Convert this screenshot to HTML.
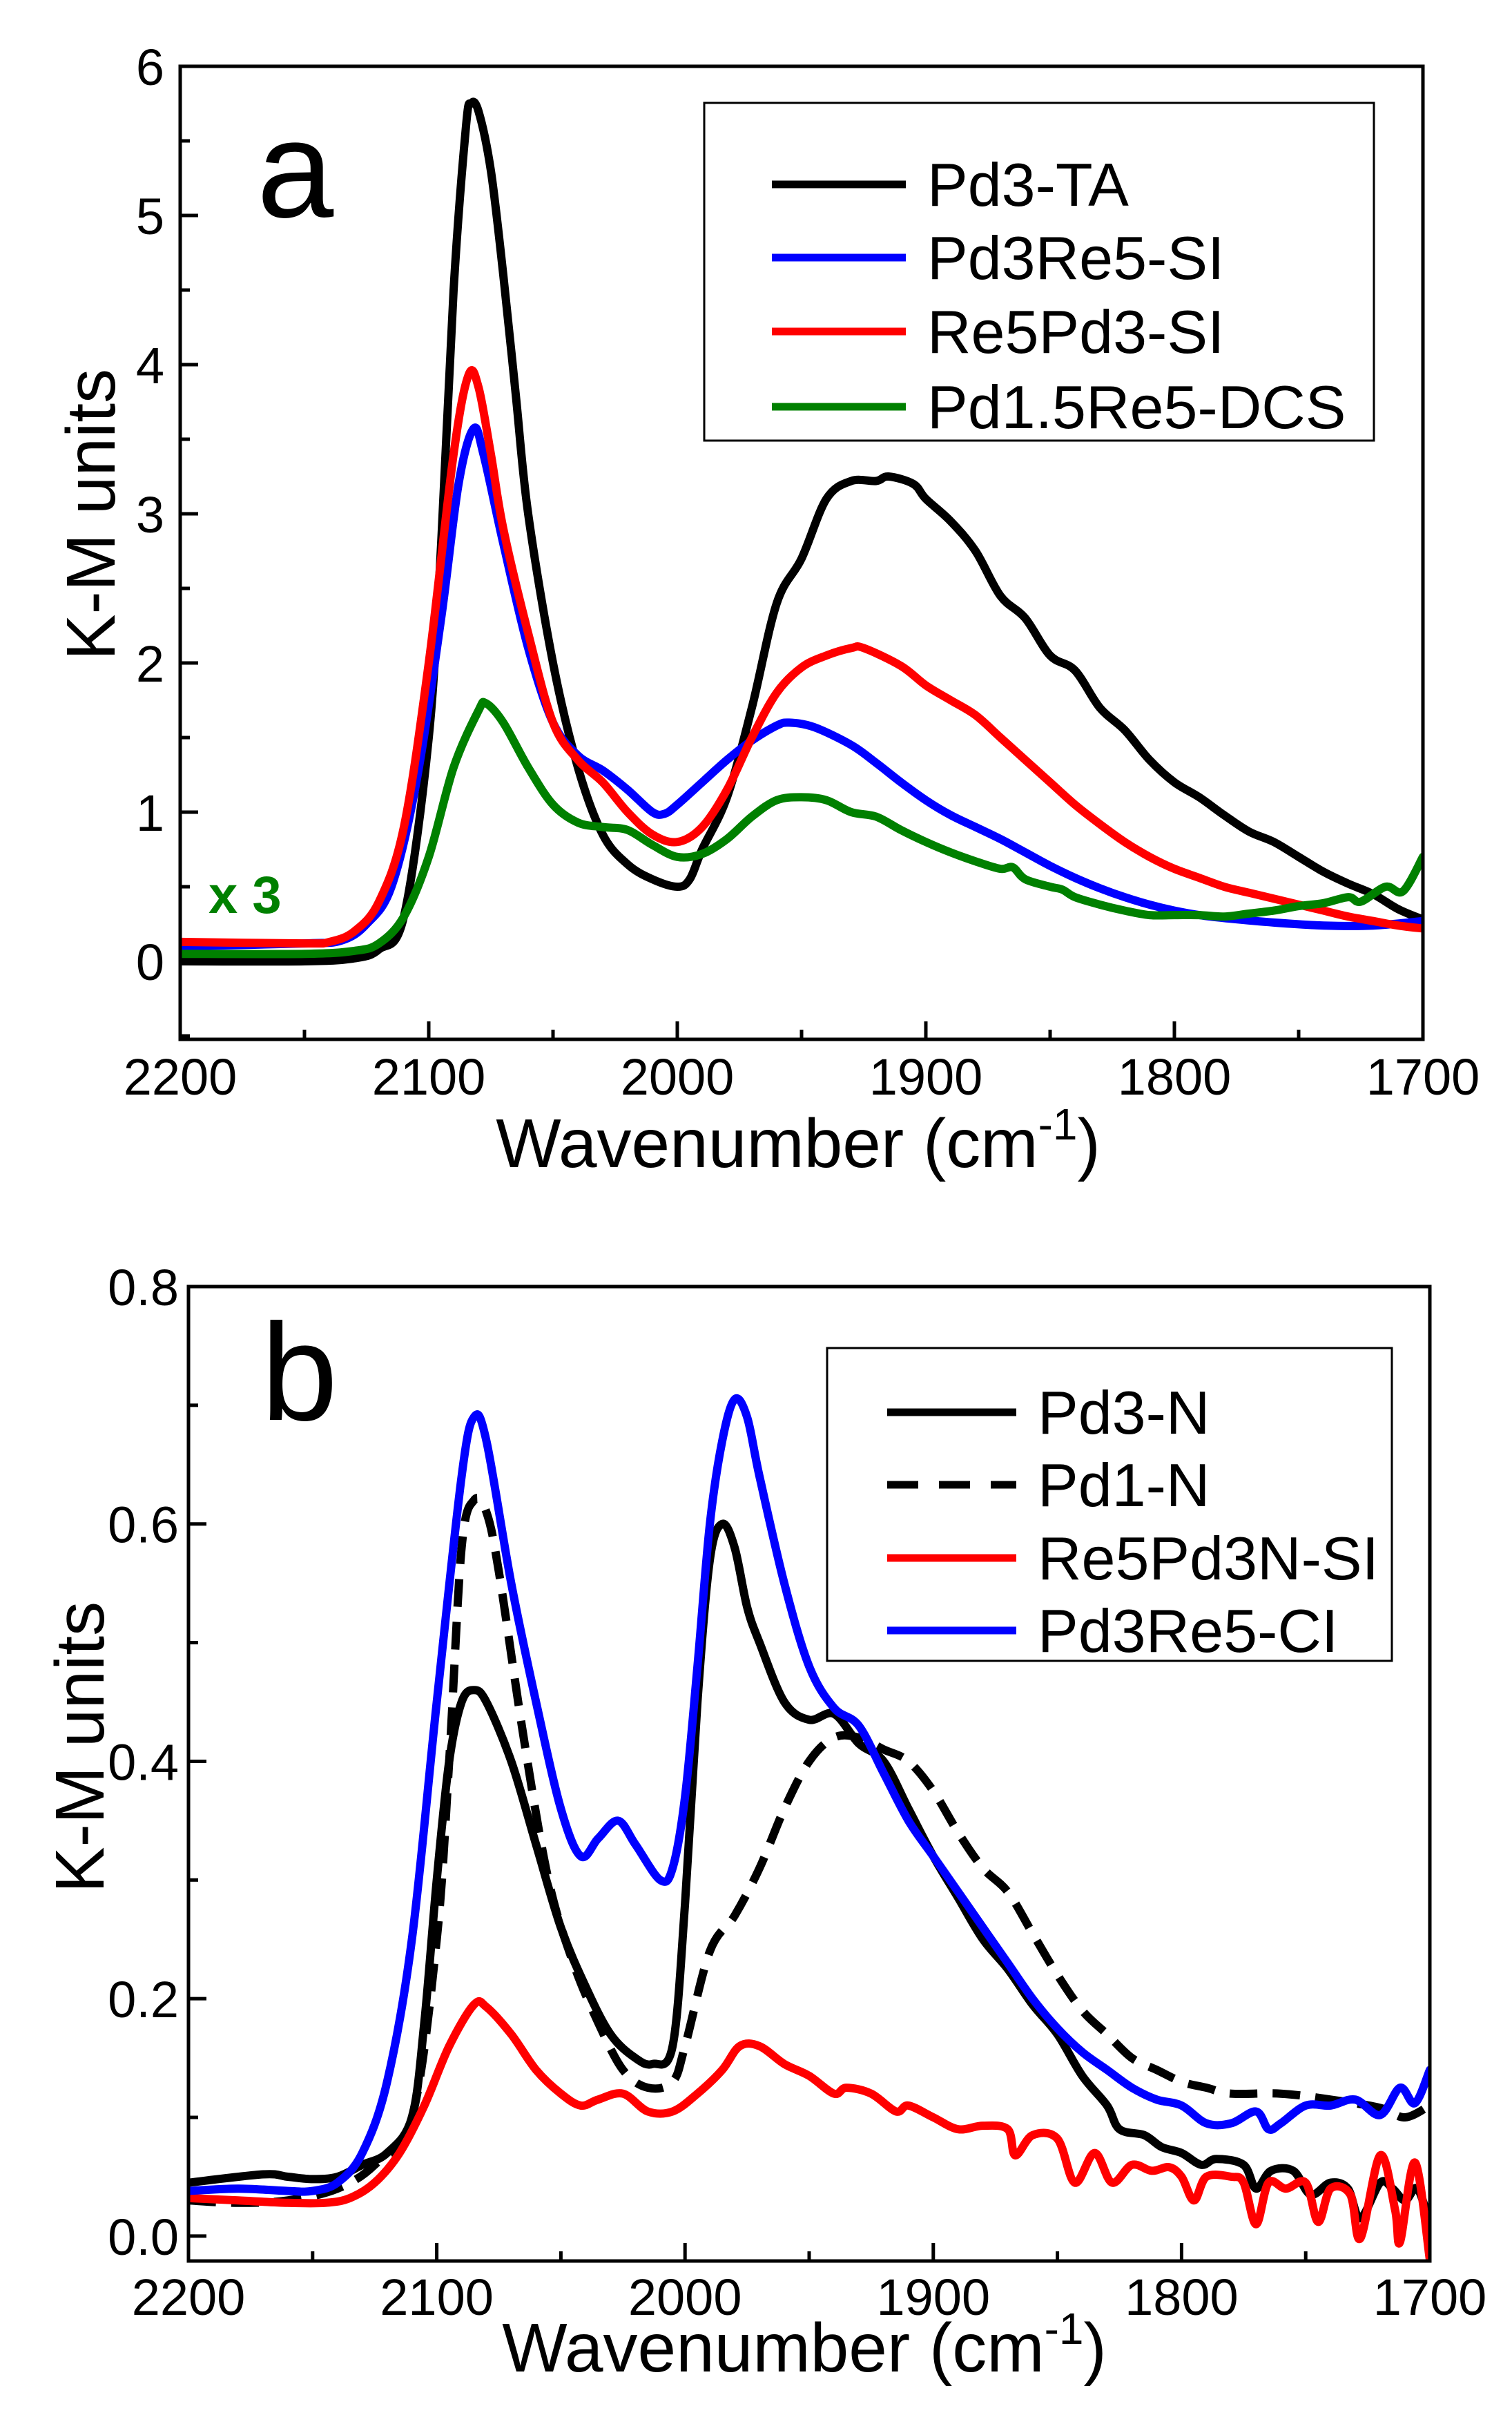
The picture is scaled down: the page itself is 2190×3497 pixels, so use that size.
<!DOCTYPE html>
<html><head><meta charset="utf-8"><style>
html,body{margin:0;padding:0;background:#fff;}
svg{display:block;font-family:"Liberation Sans",Arial,sans-serif;}
</style></head><body>
<svg id="fig" width="2190" height="3497" viewBox="0 0 2190 3497" xmlns="http://www.w3.org/2000/svg">
<defs>
<clipPath id="clipA"><rect x="261" y="96" width="1800" height="1409"/></clipPath>
<clipPath id="clipB"><rect x="273" y="1863" width="1798" height="1411"/></clipPath>
</defs>
<g id="panelA"></g>
<g id="panelB"></g>
</svg>
<script>
// ---------- Panel a data ----------
const aPd3TA_x=[2200,2150,2130,2120,2110,2100,2095,2090,2085,2083,2080,2075,2070,2065,2060,2050,2040,2030,2020,2010,2000,1995,1990,1980,1970,1960,1950,1940,1930,1920,1915,1905,1900,1890,1880,1870,1860,1850,1840,1830,1820,1810,1800,1790,1780,1770,1760,1750,1740,1730,1720,1710,1700];
const aPd3TA_y=[0.0,0.0,0.02,0.08,0.3,1.5,2.8,4.5,5.6,5.75,5.7,5.3,4.6,3.8,3.0,2.0,1.3,0.85,0.65,0.55,0.5,0.55,0.75,1.1,1.7,2.4,2.7,3.1,3.22,3.22,3.25,3.2,3.1,2.95,2.75,2.45,2.3,2.05,1.95,1.7,1.55,1.35,1.2,1.1,0.98,0.87,0.8,0.7,0.6,0.52,0.45,0.35,0.28];
const aRe5Pd3_x=[2200,2150,2140,2130,2120,2110,2100,2090,2084,2080,2075,2070,2060,2050,2040,2030,2020,2010,2000,1990,1980,1970,1960,1950,1940,1930,1925,1910,1900,1890,1880,1870,1860,1850,1840,1830,1820,1810,1800,1790,1780,1770,1760,1750,1740,1730,1720,1710,1700];
const aRe5Pd3_y=[0.13,0.12,0.13,0.2,0.4,0.9,2.0,3.4,3.93,3.85,3.4,2.9,2.2,1.6,1.35,1.2,1.0,0.85,0.8,0.9,1.15,1.5,1.8,1.97,2.05,2.1,2.1,1.98,1.85,1.75,1.65,1.5,1.35,1.2,1.05,0.92,0.8,0.7,0.62,0.56,0.5,0.46,0.42,0.38,0.34,0.3,0.27,0.24,0.22];
const aPd3Re5_x=[2200,2150,2135,2125,2115,2105,2095,2088,2082,2078,2070,2060,2050,2040,2030,2020,2010,2005,2000,1990,1980,1970,1960,1955,1945,1930,1920,1910,1900,1890,1880,1870,1860,1850,1840,1830,1820,1810,1800,1790,1780,1760,1740,1720,1700];
const aPd3Re5_y=[0.1,0.12,0.14,0.25,0.5,1.2,2.3,3.2,3.57,3.4,2.8,2.1,1.6,1.38,1.28,1.15,1.0,0.99,1.05,1.2,1.35,1.48,1.58,1.6,1.57,1.45,1.33,1.2,1.08,0.98,0.9,0.82,0.73,0.64,0.56,0.49,0.43,0.38,0.34,0.31,0.29,0.26,0.24,0.24,0.27];
const aPd15_x=[2200,2150,2130,2120,2110,2100,2090,2080,2077,2070,2060,2050,2040,2030,2020,2010,2000,1990,1980,1970,1960,1950,1940,1930,1920,1910,1900,1890,1880,1870,1865,1860,1850,1845,1840,1830,1820,1810,1800,1790,1780,1770,1760,1750,1740,1730,1725,1715,1708,1700];
const aPd15_y=[0.05,0.05,0.07,0.12,0.3,0.7,1.3,1.68,1.73,1.6,1.3,1.05,0.93,0.9,0.88,0.78,0.7,0.72,0.82,0.97,1.08,1.1,1.08,1.0,0.97,0.88,0.8,0.73,0.67,0.62,0.63,0.55,0.5,0.48,0.43,0.38,0.34,0.31,0.31,0.31,0.3,0.32,0.34,0.37,0.39,0.43,0.4,0.5,0.47,0.7];
const aXTicks=[2200,2100,2000,1900,1800,1700];
const aYTicks=[0,1,2,3,4,5,6];
const aLegend=["Pd3-TA","Pd3Re5-SI","Re5Pd3-SI","Pd1.5Re5-DCS"];

// ---------- Panel b data ----------
const bPd3N_x=[2200,2170,2160,2150,2140,2130,2120,2110,2105,2100,2095,2090,2085,2080,2070,2060,2050,2040,2030,2020,2013,2005,2000,1995,1990,1985,1980,1975,1970,1960,1950,1940,1930,1920,1910,1900,1890,1880,1870,1860,1850,1840,1830,1825,1815,1808,1800,1792,1786,1775,1770,1764,1755,1748,1740,1733,1728,1720,1715,1710,1705,1700];
const bPd3N_y=[0.045,0.052,0.05,0.048,0.05,0.06,0.07,0.1,0.18,0.3,0.4,0.45,0.46,0.45,0.4,0.33,0.26,0.21,0.17,0.15,0.145,0.16,0.28,0.45,0.57,0.6,0.58,0.53,0.5,0.45,0.435,0.44,0.415,0.4,0.36,0.32,0.285,0.25,0.225,0.195,0.17,0.135,0.11,0.09,0.085,0.075,0.07,0.06,0.065,0.06,0.04,0.055,0.055,0.035,0.045,0.04,0.015,0.045,0.04,0.03,0.04,0.01];
const bPd1N_x=[2200,2180,2160,2140,2125,2110,2100,2095,2090,2085,2080,2075,2065,2055,2045,2035,2025,2015,2005,2000,1990,1980,1970,1960,1950,1940,1930,1920,1910,1900,1890,1880,1870,1860,1850,1840,1830,1820,1810,1800,1790,1780,1760,1740,1720,1710,1700];
const bPd1N_y=[0.03,0.028,0.03,0.04,0.06,0.1,0.25,0.4,0.58,0.62,0.61,0.56,0.42,0.3,0.23,0.18,0.14,0.125,0.13,0.16,0.24,0.27,0.31,0.36,0.4,0.42,0.42,0.41,0.4,0.375,0.34,0.31,0.29,0.255,0.22,0.19,0.17,0.15,0.14,0.13,0.125,0.12,0.12,0.115,0.108,0.1,0.11];
const bRe5_x=[2200,2180,2160,2145,2135,2125,2115,2105,2095,2085,2080,2070,2060,2050,2042,2035,2025,2015,2005,1995,1985,1978,1970,1960,1950,1940,1935,1925,1915,1910,1900,1890,1880,1870,1867,1860,1850,1843,1835,1828,1820,1812,1805,1800,1795,1790,1780,1775,1770,1765,1758,1750,1745,1740,1732,1728,1720,1714,1712,1706,1700];
const bRe5_y=[0.032,0.03,0.028,0.028,0.032,0.045,0.07,0.11,0.16,0.195,0.193,0.17,0.14,0.12,0.11,0.115,0.12,0.105,0.105,0.12,0.14,0.16,0.16,0.145,0.135,0.12,0.125,0.12,0.105,0.11,0.1,0.09,0.093,0.09,0.068,0.085,0.082,0.045,0.07,0.045,0.06,0.055,0.058,0.05,0.03,0.05,0.05,0.045,0.01,0.045,0.04,0.045,0.012,0.04,0.035,-0.002,0.068,0.022,-0.005,0.062,-0.02];
const bCI_x=[2200,2180,2160,2150,2140,2130,2120,2110,2100,2090,2085,2080,2070,2060,2050,2042,2035,2027,2020,2010,2005,2000,1995,1990,1985,1980,1975,1970,1960,1950,1940,1930,1920,1910,1900,1890,1880,1870,1860,1850,1840,1830,1820,1810,1800,1790,1780,1770,1765,1760,1750,1740,1730,1720,1712,1706,1700];
const bCI_y=[0.038,0.04,0.038,0.038,0.045,0.07,0.13,0.25,0.45,0.64,0.69,0.67,0.55,0.45,0.36,0.32,0.335,0.35,0.33,0.3,0.31,0.37,0.48,0.6,0.67,0.705,0.69,0.64,0.55,0.48,0.445,0.43,0.39,0.35,0.32,0.29,0.26,0.23,0.2,0.175,0.155,0.14,0.125,0.115,0.11,0.095,0.095,0.105,0.09,0.095,0.11,0.11,0.115,0.102,0.125,0.112,0.14];
const bXTicks=[2200,2100,2000,1900,1800,1700];
const bYTicks=[0.0,0.2,0.4,0.6,0.8];
const bYTickLabels=["0.0","0.2","0.4","0.6","0.8"];
const bLegend=["Pd3-N","Pd1-N","Re5Pd3N-SI","Pd3Re5-CI"];

const NS="http://www.w3.org/2000/svg";
function mk(tag,attrs,parent,text){
  const e=document.createElementNS(NS,tag);
  for(const k in attrs) e.setAttribute(k,attrs[k]);
  if(text!==undefined) e.textContent=text;
  parent.appendChild(e);
  return e;
}
function scale(d0,d1,r0,r1){return v=>r0+(v-d0)*(r1-r0)/(d1-d0);}
function smoothPath(P){
  let d='M'+P[0][0].toFixed(1)+','+P[0][1].toFixed(1);
  for(let i=0;i<P.length-1;i++){
    const p0=P[Math.max(0,i-1)],p1=P[i],p2=P[i+1],p3=P[Math.min(P.length-1,i+2)];
    const c1x=p1[0]+(p2[0]-p0[0])/6,c1y=p1[1]+(p2[1]-p0[1])/6;
    const c2x=p2[0]-(p3[0]-p1[0])/6,c2y=p2[1]-(p3[1]-p1[1])/6;
    d+=' C'+c1x.toFixed(1)+','+c1y.toFixed(1)+' '+c2x.toFixed(1)+','+c2y.toFixed(1)+' '+p2[0].toFixed(1)+','+p2[1].toFixed(1);
  }
  return d;
}

function buildPanel(g,cfg){
  const X=scale(2200,1700,cfg.left,cfg.right);
  const Y=scale(cfg.ymin,cfg.ymax,cfg.bottom,cfg.top);
  const sg=mk('g',{'clip-path':'url(#'+cfg.clip+')'},g);
  cfg.series.forEach(s=>{
    const P=s.x.map((xv,i)=>[X(xv),Y(s.y[i])]);
    const attrs={d:smoothPath(P),fill:'none',stroke:s.color,'stroke-width':12,'stroke-linejoin':'round','stroke-linecap':'round'};
    if(s.dash){attrs['stroke-dasharray']=s.dash;attrs['stroke-linecap']='butt';}
    const pl=mk('path',attrs,sg);
    
    
  });
  const fr=mk('rect',{x:cfg.left,y:cfg.top,width:cfg.right-cfg.left,height:cfg.bottom-cfg.top,fill:'none',stroke:'#000','stroke-width':5},g);
  
  
  for(let v=2200;v>=1700;v-=50){
    const major=(v%100===0);
    const t=mk('line',{x1:X(v),x2:X(v),y1:cfg.bottom,y2:cfg.bottom-(major?26:14),stroke:'#000','stroke-width':5},g);
    
    
  }
  cfg.xticks.forEach(v=>{
    const t=mk('text',{x:X(v),y:cfg.xlabY,'font-size':74,'text-anchor':'middle',fill:'#000'},g,String(v));
    
    
  });
  for(let v=cfg.ymin_tick;v<=cfg.ymax+1e-9;v+=cfg.minor){
    const isMajor=Math.abs(Math.round(v/cfg.major)*cfg.major-v)<1e-6;
    const t=mk('line',{x1:cfg.left,x2:cfg.left+(isMajor?26:14),y1:Y(v),y2:Y(v),stroke:'#000','stroke-width':5},g);
    
    
  }
  cfg.yticks.forEach((v,i)=>{
    const t=mk('text',{x:cfg.ylabX,y:Y(v)+27,'font-size':74,'text-anchor':'end',fill:'#000'},g,cfg.ylabels[i]);
    
    
  });
  const xt=mk('text',{x:cfg.xtitleX,y:cfg.xtitleY,'font-size':100,'text-anchor':'middle',fill:'#000'},g);
  
  
  mk('tspan',{},xt,'Wavenumber (cm');
  mk('tspan',{dy:-40,'font-size':64},xt,'-1');
  mk('tspan',{dy:40},xt,')');
  const yt=mk('text',{x:0,y:0,'font-size':100,'text-anchor':'middle',fill:'#000',transform:'translate('+cfg.ytitleX+','+cfg.ytitleY+') rotate(-90)'},g,'K-M units');
  
  
  const pl=mk('text',{x:cfg.letterX,y:cfg.letterY,'font-size':200,fill:'#000'},g,cfg.letter);
  
  
  const lg=mk('g',{},g);
  
  
  const L=cfg.legend;
  mk('rect',{x:L.x,y:L.y,width:L.w,height:L.h,fill:'#fff',stroke:'#000','stroke-width':3},lg);
  cfg.legendNames.forEach((nm,i)=>{
    const s=cfg.series[i];
    const ry=L.rows[i];
    const la={x1:L.lx1,x2:L.lx2,y1:ry,y2:ry,stroke:s.color,'stroke-width':11};
    if(s.dash) la['stroke-dasharray']=s.legDash;
    const ln=mk('line',la,lg);
    
    
    const tx=mk('text',{x:L.tx,y:ry+31,'font-size':88,fill:'#000'},lg,nm);
    
    
  });
}

buildPanel(document.getElementById('panelA'),{
  left:261,right:2061,top:96,bottom:1505,ymin:-0.523,ymax:6,ymin_tick:-0.5,minor:0.5,major:1,
  clip:'clipA',xticks:aXTicks,xlabY:1585,yticks:aYTicks,ylabels:aYTicks.map(String),ylabX:238,
  xtitleX:1156,xtitleY:1690,ytitleX:166,ytitleY:745,letter:'a',letterX:372,letterY:314,
  series:[
    {name:'pd3-ta-line',x:aPd3TA_x,y:aPd3TA_y,color:'#000'},
    {name:'pd3re5-si-line',x:aPd3Re5_x,y:aPd3Re5_y,color:'#0000ff'},
    {name:'re5pd3-si-line',x:aRe5Pd3_x,y:aRe5Pd3_y,color:'#ff0000'},
    {name:'pd1.5re5-dcs-line',x:aPd15_x,y:aPd15_y,color:'#008000'}
  ],
  legendNames:aLegend,
  legend:{x:1020,y:149,w:970,h:489,lx1:1118,lx2:1312,tx:1343,rows:[267,373,480,589]}
});
buildPanel(document.getElementById('panelB'),{
  left:273,right:2071,top:1863,bottom:3274,ymin:-0.021,ymax:0.8,ymin_tick:0,minor:0.1,major:0.2,
  clip:'clipB',xticks:bXTicks,xlabY:3352,yticks:bYTicks,ylabels:bYTickLabels,ylabX:259,
  xtitleX:1165,xtitleY:3434,ytitleX:150,ytitleY:2530,letter:'b',letterX:378,letterY:2056,
  series:[
    {name:'pd3-n-line',x:bPd3N_x,y:bPd3N_y,color:'#000'},
    {name:'pd1-n-line',x:bPd1N_x,y:bPd1N_y,color:'#000',dash:'40,22',legDash:'45,30'},
    {name:'re5pd3n-si-line',x:bRe5_x,y:bRe5_y,color:'#ff0000'},
    {name:'pd3re5-ci-line',x:bCI_x,y:bCI_y,color:'#0000ff'}
  ],
  legendNames:bLegend,
  legend:{x:1198,y:1952,w:818,h:453,lx1:1285,lx2:1472,tx:1503,rows:[2045,2150,2256,2361]}
});
const x3=document.createElementNS(NS,'text');
x3.setAttribute('x',302);x3.setAttribute('y',1322);x3.setAttribute('font-size',76);
x3.setAttribute('font-weight','bold');x3.setAttribute('fill','#008000');
x3.textContent='x 3';


document.getElementById('panelA').appendChild(x3);
</script>
</body></html>
